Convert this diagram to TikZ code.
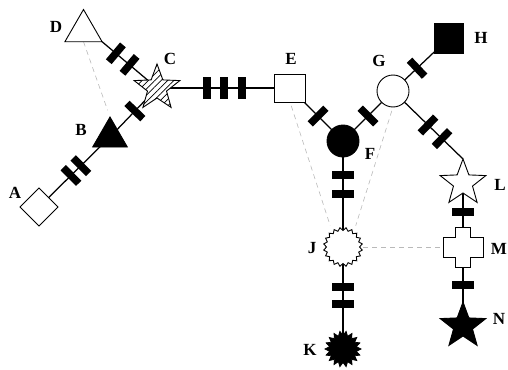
\documentclass[tikz,border=0pt]{standalone}
\usepackage{fontspec}
\setmainfont{Liberation Serif}
\usetikzlibrary{shapes.geometric,patterns.meta,calc}
\pgfdeclarelayer{background}
\pgfsetlayers{background,main}
\begin{document}
\begin{tikzpicture}[x=1pt,y=-1pt,
  shp/.style={draw=black,line width=0.9pt,inner sep=0pt,outer sep=0pt},
  openshp/.style={shp,fill=white},
  filledshp/.style={shp,fill=black},
  starshp/.style={star,star points=5,star point ratio=2.4,minimum size=48pt},
  anchorshp/.style={draw=none,inner sep=0pt,outer sep=0pt},
  edge/.style={line width=1.25pt},
  bar/.style={fill=black,draw=none,minimum width=7.5pt,minimum height=22pt,inner sep=0pt,sloped},
  dashlink/.style={gray!55,line width=0.6pt,dash pattern=on 5pt off 4pt},
  lbl/.style={font=\fontsize{17}{17}\selectfont\bfseries,inner sep=0pt}
]
\useasboundingbox (0,0) rectangle (508,369);

% nodes
\node[openshp,regular polygon,regular polygon sides=3,minimum size=43pt] (D) at (83.5,31) {};
\node[filledshp,regular polygon,regular polygon sides=3,minimum size=40pt] (B) at (110,137) {};
\node[openshp,diamond,minimum size=38pt] (A) at (39,207) {};
\node[shp,starshp,preaction={fill=white},pattern={Lines[angle=45,distance=4.5pt,line width=0.7pt]}] (C) at (157,88) {};
\node[openshp,rectangle,minimum width=31pt,minimum height=28pt] (E) at (290,88) {};
\node[filledshp,circle,minimum size=32pt] (F) at (343,141) {};
\node[openshp,circle,minimum size=32pt] (G) at (393,91) {};
\node[filledshp,rectangle,minimum width=29pt,minimum height=30pt] (H) at (449,38) {};
\node[openshp,starshp] (L) at (463,183) {};
\node[filledshp,starshp] (N) at (463,326) {};
\node[anchorshp,rectangle,minimum size=40pt] (M) at (463,247) {};
\draw[shift={(M.center)},line width=0.9pt,fill=white]
  (-7.5,-20) -- (7.5,-20) -- (7.5,-10) -- (20,-10) -- (20,10) -- (7.5,10) -- (7.5,20)
  -- (-7.5,20) -- (-7.5,10) -- (-20,10) -- (-20,-10) -- (-7.5,-10) -- cycle;
\node[anchorshp,circle,minimum size=38pt] (J) at (343,247) {};
\draw[shift={(J.center)},line width=0.9pt,fill=white]
  plot[samples=41,domain=0:40,variable=\k] ({90+\k*9}:{16.5+3*mod(round(\k),2)}) -- cycle;
\node[anchorshp,circle,minimum size=34pt] (K) at (343,349) {};
\draw[shift={(K.center)},line width=0.7pt,fill=black]
  plot[samples=37,domain=0:36,variable=\k] ({90+\k*10}:{13.5+4.5*mod(round(\k),2)}) -- cycle;

% edges
\begin{pgfonlayer}{background}
\draw[edge] (D.corner 3) -- node[bar,pos=0.25]{} node[bar,pos=0.5]{} (C.center);
\draw[edge] (C.center) -- node[bar,pos=0.47]{} (B.center);
\draw[edge] (B.center) -- node[bar,pos=0.41]{} node[bar,pos=0.55]{} (A.center);
\draw[edge] (C.center) -- node[bar,pos=0.376]{} node[bar,pos=0.504]{} node[bar,pos=0.639]{} (E.center);
\draw[edge] (E.center) -- node[bar,pos=0.53]{} (F.center);
\draw[edge] (F.center) -- node[bar,pos=0.5]{} (G.center);
\draw[edge] (G.center) -- node[bar,pos=0.43]{} (H.center);
\draw[edge] (G.center) -- node[bar,pos=0.5]{} node[bar,pos=0.7]{} (L.outer point 1);
\draw[edge] (F.center) -- node[bar,pos=0.32]{} node[bar,pos=0.5]{} (J.center);
\draw[edge] (J.center) -- node[bar,pos=0.39]{} node[bar,pos=0.56]{} (K.center);
\draw[edge] (L.center) -- node[bar,pos=0.45]{} (M.center);
\draw[edge] (M.center) -- node[bar,pos=0.48]{} (N.center);
% dashed links
\draw[dashlink,shorten >=7pt] (D.side 2) -- (B.corner 1);
\draw[dashlink,shorten <=4pt,shorten >=6pt] (E.south) -- (J.125);
\draw[dashlink,shorten <=4pt,shorten >=6pt] (G.south) -- (J.55);
\draw[dashlink,shorten <=1pt] (J.east) -- (M.west);
\end{pgfonlayer}

% labels
\node[lbl] (lA) at (15,193) {A};
\node[lbl] (lB) at (81,130) {B};
\node[lbl] (lC) at (170,59) {C};
\node[lbl] (lD) at (56,27) {D};
\node[lbl] (lE) at (291,59) {E};
\node[lbl] (lF) at (370,154) {F};
\node[lbl] (lG) at (379,61) {G};
\node[lbl] (lH) at (481,38) {H};
\node[lbl] (lJ) at (312,248) {J};
\node[lbl] (lK) at (310,350) {K};
\node[lbl] (lL) at (500,185) {L};
\node[lbl] (lM) at (499,249) {M};
\node[lbl] (lN) at (499,319) {N};
\end{tikzpicture}
\end{document}
